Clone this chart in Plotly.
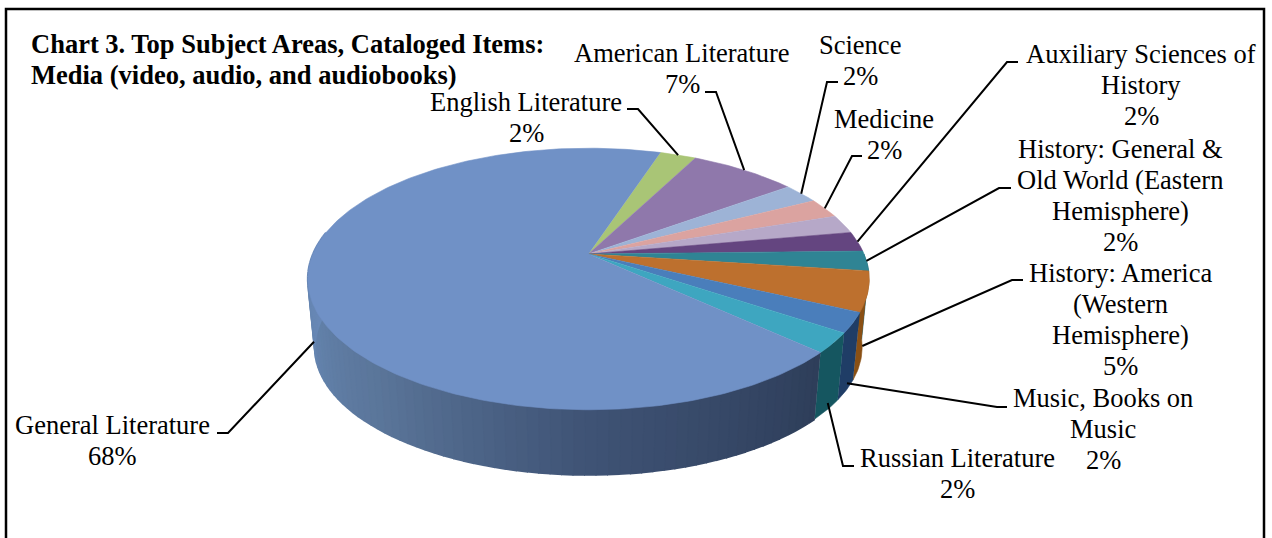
import math
import plotly.graph_objects as go

# Slices run clockwise from the start angle; one small slice has no label of its own.
categories = ["English Literature", "American Literature", "Science", "Medicine", "",
              "Auxiliary Sciences of<br>History", "History: General &<br>Old World (Eastern<br>Hemisphere)",
              "History: America<br>(Western<br>Hemisphere)", "Music, Books on<br>Music", "Russian Literature",
              "General Literature"]
values = [2.49, 7.4, 2.49, 2.45, 2.3, 2.45, 2.45, 4.9, 2.45, 2.45, 67.9]
top_colors = ["#a9c576", "#8f78ab", "#9db3d6", "#dba3a0", "#b6a8c8", "#644580",
              "#2f8494", "#bd702e", "#4a7ebb", "#3ea6c0", "#7091c6"]
wall_colors = ["#6f8a45", "#5d4a78", "#66799c", "#a06f6c", "#7d7090", "#3f2a55",
               "#1d5a66", "#8a5014", "#1f3d66", "#155660", None]
# Shading of the large slice's side wall: (angle, colour).
wall_ramp = [(134, (46, 62, 90)), (180, (63, 83, 117)), (220, (90, 117, 153)),
             (255, (101, 133, 176)), (280, (106, 138, 187))]

title_lines = ["Chart 3. Top Subject Areas, Cataloged Items:", "Media (video, audio, and audiobooks)"]
label_xy = [(526, 117), (682, 68), (860, 60), (884, 134), None, (1141, 85),
            (1120, 195), (1120, 319), (1103, 429), (957, 473), (112, 440)]
# Leader bend and tail points, and how far down the wall each leader lands.
leader_path = [[(638, 109), (627, 109)], [(716, 92), (705, 92)], [(827, 82), (838, 82)],
               [(852, 156), (862, 156)], None, [(1007, 62), (1018, 62)], [(999, 188), (1011, 188)],
               [(1012, 280), (1023, 280)], [(997, 407), (1007, 407)], [(843, 466), (854, 466)],
               [(228, 433), (217, 433)]]
leader_depth = [0, 0, 0, 0, 0, 0, 0, 0.8, 0.9, 0.9, 0.8]

START_DEG = 18.0
CX, CY, RX, RY, TILT = 588.5, 254, 275.5, 126, 0.191
WALL_DROP, WALL_SCALE = 69, 0.975
LINE_GAP = 31
FONT = "Liberation Serif"
LABEL_SIZE = 26.5
TITLE_SIZE = 26.5


def project(deg, depth=0.0):
    """Perspective projection of a rim point; depth 0 is the top face, 1 the base."""
    a = math.radians(deg)
    px, py = math.sin(a), math.cos(a)
    s = 1 / (1 + TILT * py)
    k = 1 + (WALL_SCALE - 1) * depth
    return CX + RX * px * s * k, CY - RY * py * s * k + WALL_DROP * depth


def frange(a, b, step):
    n = max(1, int(math.ceil((b - a) / step)))
    return [a + (b - a) * i / n for i in range(n + 1)]


def ramp_color(deg):
    for (a0, c0), (a1, c1) in zip(wall_ramp, wall_ramp[1:]):
        if deg <= a1:
            t = max(0, (deg - a0) / (a1 - a0))
            return "rgb(%d,%d,%d)" % tuple(round(u + (v - u) * t) for u, v in zip(c0, c1))
    return "rgb(%d,%d,%d)" % wall_ramp[-1][1]


total = sum(values)
edges = [START_DEG]
for v in values:
    edges.append(edges[-1] + v / total * 360)

fig = go.Figure()


def polygon(pts, color, edge=0.6):
    fig.add_trace(go.Scatter(x=[p[0] for p in pts], y=[p[1] for p in pts], mode="lines",
                             fill="toself", fillcolor=color, hoverinfo="skip",
                             line=dict(color=color, width=edge), showlegend=False))


# Side wall, drawn first so the top face covers its far half.
for i, v in enumerate(values):
    a0, a1 = max(edges[i], 90), min(edges[i + 1], 280)
    if a1 <= a0:
        continue
    if wall_colors[i] is None:
        grid = frange(a0, a1, 2.0)
        for p, q in zip(grid, grid[1:]):
            polygon([project(p), project(q), project(q, 1), project(p, 1)],
                    ramp_color((p + q) / 2), edge=2)
    else:
        grid = frange(a0, a1, 1.0)
        polygon([project(d) for d in grid] + [project(d, 1) for d in reversed(grid)], wall_colors[i])

# Top face.
for i, v in enumerate(values):
    grid = frange(edges[i], edges[i + 1], 1.0)
    polygon([(CX, CY)] + [project(d) for d in grid], top_colors[i])

# Leader lines from each slice's middle out to its label.
for i, path in enumerate(leader_path):
    if path is None:
        continue
    mid = (edges[i] + edges[i + 1]) / 2
    sx, sy = project(mid, leader_depth[i])
    pts = [(sx, sy)] + path
    fig.add_trace(go.Scatter(x=[p[0] for p in pts], y=[p[1] for p in pts], mode="lines",
                             hoverinfo="skip", showlegend=False,
                             line=dict(color="black", width=2)))


def text_block(lines, x, yc, anchor, size, bold=False):
    # Each line is placed on its own so the leading can be set independently of the font size.
    for j, line in enumerate(lines):
        fig.add_annotation(x=x, y=yc + (j - (len(lines) - 1) / 2) * LINE_GAP, xref="x", yref="y",
                           text=f"<b>{line}</b>" if bold else line, showarrow=False,
                           xanchor=anchor, yanchor="middle",
                           font=dict(family=FONT, size=size, color="black"))


for i, name in enumerate(categories):
    if name:
        text_block(name.split("<br>") + [f"{round(values[i])}%"], label_xy[i][0], label_xy[i][1],
                   "center", LABEL_SIZE)

text_block(title_lines, 29, 59.5, "left", TITLE_SIZE, bold=True)

fig.add_shape(type="rect", x0=6, y0=9, x1=1264, y1=560, xref="x", yref="y",
              line=dict(color="black", width=2.5), fillcolor="rgba(0,0,0,0)")

fig.update_layout(width=1272, height=538, margin=dict(l=0, r=0, t=0, b=0),
                  paper_bgcolor="white", plot_bgcolor="white", showlegend=False,
                  xaxis=dict(range=[0, 1272], visible=False, fixedrange=True),
                  yaxis=dict(range=[538, 0], visible=False, fixedrange=True))
fig.write_html("out.html", config={"displayModeBar": False})
